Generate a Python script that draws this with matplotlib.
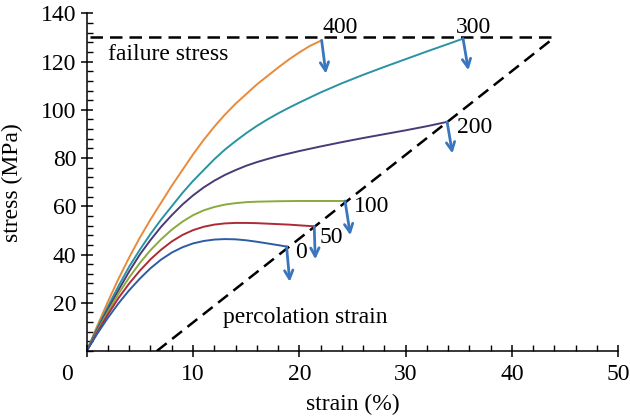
import matplotlib
matplotlib.use("Agg")
import matplotlib.pyplot as plt
from matplotlib.ticker import MultipleLocator
from matplotlib.transforms import ScaledTranslation

plt.rcParams['font.family'] = ['Liberation Serif', 'DejaVu Serif']

# stress-strain curves, labelled by the value written at their ends
labels = ['400', '300', '200', '100', '50', '0']
strain = [
    [0, 1, 2, 3, 4, 5, 6, 7, 8, 9, 10, 11, 12, 13, 14, 15, 16, 17, 18, 19, 20, 21, 22.1],
    [0, 1, 2, 3, 4, 5, 6, 7, 8, 9, 10, 11, 12, 13, 14, 15, 16, 17, 18, 19, 20, 22, 24, 26,
     28, 30, 32, 34, 35.4],
    [0, 1, 2, 3, 4, 5, 6, 7, 8, 9, 10, 11, 12, 13, 14, 15, 16, 17, 18, 20, 22, 24, 26, 28,
     30, 32, 33.9],
    [0, 1, 2, 3, 4, 5, 6, 7, 8, 9, 10, 11, 12, 13, 14, 15, 16, 18, 20, 22, 24.3],
    [0, 1, 2, 3, 4, 5, 6, 7, 8, 9, 10, 11, 12, 13, 14, 15, 16, 17, 18, 19, 20, 21.4],
    [0, 1, 2, 3, 4, 5, 6, 7, 8, 9, 10, 11, 12, 13, 14, 15, 16, 17, 18, 18.8],
]
stress = [
    [0, 10.5, 20.5, 30, 38.8, 47, 54.5, 61.5, 68.5, 75, 81.5, 87.5, 93, 98, 102.5, 106.5,
     110.5, 114, 117.5, 120.8, 123.8, 126.5, 128.8],
    [0, 9.5, 18.5, 27, 35, 42, 48.5, 54.5, 60, 65.5, 70.5, 75, 79.5, 83.5, 87, 90.3, 93.3,
     96, 98.5, 100.8, 103, 107.2, 111, 114.5, 117.8, 121, 124.2, 127.3, 129.5],
    [0, 8.8, 17.3, 25.3, 33, 40, 46, 51.5, 56.3, 60.7, 64.5, 67.8, 70.6, 73, 75, 76.8, 78.3,
     79.6, 80.8, 82.9, 84.8, 86.6, 88.3, 89.9, 91.5, 93.2, 95],
    [0, 8.3, 16.3, 23.8, 30.5, 36.5, 41.8, 46.3, 50.3, 53.6, 56.3, 58.3, 59.7, 60.7, 61.3,
     61.7, 61.9, 62.1, 62.2, 62.2, 62.2],
    [0, 7.8, 15.2, 22, 28, 33.3, 38, 42, 45.4, 48.1, 50.1, 51.5, 52.4, 52.9, 53.1, 53.1, 53,
     52.8, 52.6, 52.4, 52.1, 51.7],
    [0, 7.2, 13.8, 19.8, 25.2, 30, 34.3, 37.9, 40.8, 43, 44.6, 45.6, 46.2, 46.4, 46.3, 45.9,
     45.3, 44.6, 43.9, 43.3],
]
colors = ['#E98A3B', '#2A93A3', '#4A3A76', '#8BAA3E', '#AE2B36', '#2C5CA6']

# arrow tips (strain, stress) below each curve end
arrow_tip_x = [22.5, 35.9, 34.4, 24.8, 21.5, 19.1]
arrow_tip_y = [115, 116.4, 81.9, 48, 38, 28.7]

# label anchor (left, baseline)
label_x = [22.2, 34.7, 34.8, 25.1, 21.9, 19.6]
label_y = [131.7, 131.7, 90.3, 57.5, 44.6, 38.4]

failure_stress = 130
failure_x = [0.3, 44]
percolation_x = [6.6, 44]
percolation_y = [0, 130]

fig = plt.figure(figsize=(6.3, 4.18), dpi=100)
ax = fig.add_axes([0.1376, 0.1603, 0.8438, 0.8078])

dash = (0, (5, 2.8))
ax.plot(failure_x, [failure_stress, failure_stress], color='black', lw=1.8, linestyle=dash)
ax.plot(percolation_x, percolation_y, color='black', lw=1.8, linestyle=dash)

fs = 17
for i in range(len(labels)):
    ax.plot(strain[i], stress[i], color=colors[i], lw=1.4)
    x0 = strain[i][-1]
    y0 = stress[i][-1]
    ax.annotate('', xy=(arrow_tip_x[i], arrow_tip_y[i]), xytext=(x0, y0),
                arrowprops=dict(arrowstyle='->', color='#3A76BE', lw=2,
                                mutation_scale=15, shrinkA=0, shrinkB=0))
    ax.text(label_x[i], label_y[i], labels[i], fontsize=fs, ha='left', va='baseline')

ax.text(2.0, 120.5, 'failure stress', fontsize=fs, ha='left', va='baseline')
ax.text(12.8, 11.5, 'percolation strain', fontsize=fs, ha='left', va='baseline')

ax.set_xlim(0, 50)
ax.set_ylim(0, 140)
ax.set_xticks([0, 10, 20, 30, 40, 50])
ax.set_yticks([20, 40, 60, 80, 100, 120, 140])
ax.xaxis.set_minor_locator(MultipleLocator(2))
ax.yaxis.set_minor_locator(MultipleLocator(4))

for s in ['top', 'right']:
    ax.spines[s].set_visible(False)
for s in ['left', 'bottom']:
    ax.spines[s].set_linewidth(1.1)

ax.tick_params(which='major', direction='inout', length=9, width=1.1, labelsize=fs)
ax.tick_params(which='minor', direction='in', length=4.5, width=1.0)
ax.tick_params(axis='x', which='major', pad=5)
ax.tick_params(axis='y', which='major', pad=3)

# origin label sits left of the axis corner
lab0 = ax.get_xticklabels()[0]
lab0.set_transform(lab0.get_transform() + ScaledTranslation(-0.2, 0, fig.dpi_scale_trans))

ax.set_xlabel('strain (%)', fontsize=fs, labelpad=6)
ax.set_ylabel('stress (MPa)', fontsize=fs, labelpad=13)

fig.savefig('out.png', dpi=100)
